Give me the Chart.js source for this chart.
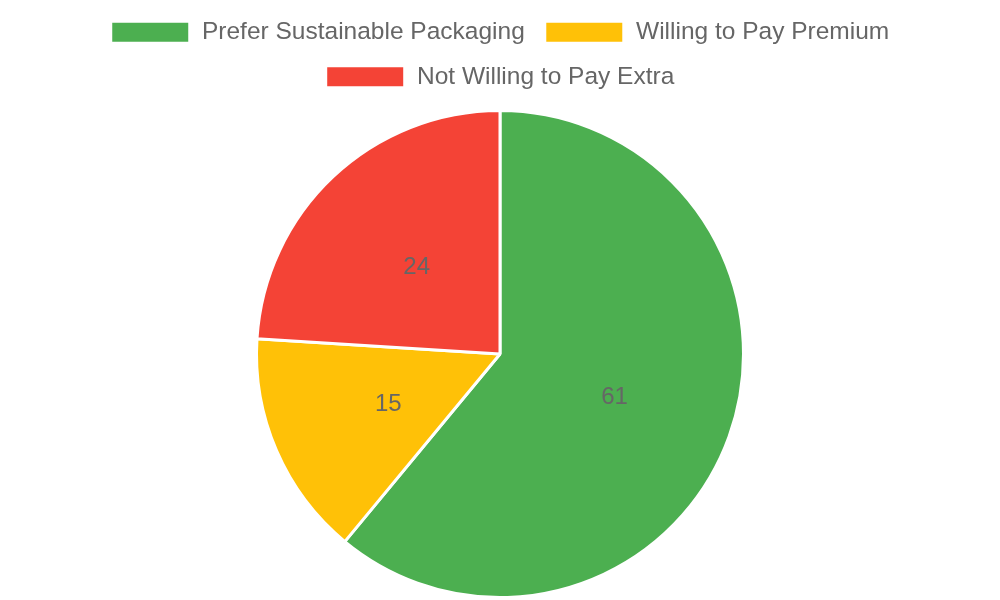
<!DOCTYPE html>
<html>
<head>
<meta charset="utf-8">
<script src="https://cdn.jsdelivr.net/npm/chart.js@4"></script>
<style>
  html, body { margin: 0; padding: 0; background: #fff; }
  #wrap { width: 1000px; height: 600px; }
</style>
</head>
<body>
<div id="wrap"><canvas id="pieCanvas"></canvas></div>
<script>
const labels = ["Prefer Sustainable Packaging", "Willing to Pay Premium", "Not Willing to Pay Extra"];
const values = [61, 15, 24];
const colors = ["#4CAF50", "#FFC107", "#F44336"];

// draws the number in the middle of each slice
const sliceLabels = {
  id: "sliceLabels",
  afterDatasetsDraw(chart) {
    const ctx = chart.ctx;
    const meta = chart.getDatasetMeta(0);
    ctx.save();
    ctx.font = "24px 'Liberation Sans', Arial, sans-serif";
    ctx.fillStyle = "#666";
    ctx.textAlign = "center";
    ctx.textBaseline = "middle";
    meta.data.forEach((arc, i) => {
      const p = arc.tooltipPosition();
      ctx.fillText(String(chart.data.datasets[0].data[i]), p.x, p.y + 2);
    });
    ctx.restore();
  }
};

// a bit more room under the legend
const legendGap = {
  id: "legendGap",
  beforeInit(chart) {
    const origFit = chart.legend.fit;
    chart.legend.fit = function () {
      origFit.bind(chart.legend)();
      this.height += 10;
    };
  }
};

Chart.defaults.font.family = "'Liberation Sans', Arial, sans-serif";
Chart.defaults.color = "#666";

new Chart(document.getElementById("pieCanvas"), {
  type: "pie",
  data: {
    labels: labels,
    datasets: [{
      data: values,
      backgroundColor: colors,
      borderColor: "#fff",
      borderWidth: 3
    }]
  },
  options: {
    responsive: true,
    maintainAspectRatio: false,
    animation: false,
    layout: { padding: { bottom: 1 } },
    plugins: {
      legend: {
        position: "top",
        labels: {
          boxWidth: 79,
          boxHeight: 22,
          padding: 20,
          font: { size: 24.5 },
          color: "#666"
        }
      },
      tooltip: { enabled: false }
    }
  },
  plugins: [sliceLabels, legendGap]
});
</script>
</body>
</html>
